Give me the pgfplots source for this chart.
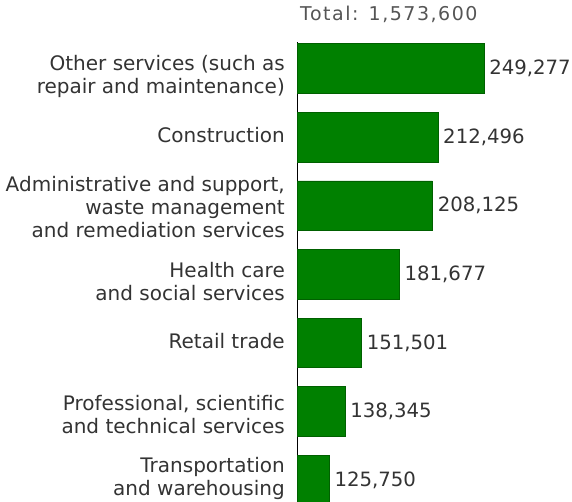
\documentclass[border=0pt]{standalone}
\usepackage{fontspec}
\setmainfont{DejaVu Sans}
\usepackage{pgfplots}
\pgfplotsset{compat=1.18}
\definecolor{barg}{HTML}{008000}
\definecolor{barb}{HTML}{006000}
\definecolor{txt}{HTML}{333333}
\definecolor{tot}{HTML}{555555}
\begin{document}
\begin{tikzpicture}[x=1pt,y=1pt]
\useasboundingbox (0,0) rectangle (572,-502);
\begin{axis}[
  at={(297pt,-502pt)}, anchor=south west,
  scale only axis, width=275pt, height=460pt,
  xbar, bar width=49.5pt,
  xmin=100000, xmax=319526,
  ymin=-0.386, ymax=6.319, y dir=reverse,
  hide x axis, axis y line*=left,
  axis line style={black, line width=0.9pt, -},
  ytick={0.12,0.97,2.02,3.1,3.98,5.04,5.98},
  yticklabels={{Other services (such as\\repair and maintenance)},
    {Construction},
    {Administrative and support,\\waste management\\and remediation services},
    {Health care\\and social services},
    {Retail trade},
    {Professional, scientific\\and technical services},
    {Transportation\\and warehousing}},
  major tick length=0pt,
  yticklabel style={align=right, font=\fontsize{20}{23}\selectfont, text=txt, inner sep=0pt, xshift=-12pt},
  nodes near coords={\pgfmathprintnumber[fixed,precision=0,1000 sep={,},assume math mode=true]{\pgfplotspointmeta}},
  point meta=x,
  nodes near coords style={font=\fontsize{19.7}{23}\selectfont, text=txt, anchor=west, inner sep=0pt, xshift=5pt},
  title={Total: 1,573,600},
  title style={at={(0,1)}, anchor=south west, inner sep=0pt, xshift=3pt, yshift=13pt, text=tot,
    font=\addfontfeature{LetterSpace=8}\fontsize{19}{23}\selectfont},
]
\addplot[fill=barg, draw=barb, line width=0.6pt] coordinates {
  (249277,0) (212496,1) (208125,2) (181677,3) (151501,4) (138345,5) (125750,6)};
\end{axis}
\end{tikzpicture}
\end{document}
